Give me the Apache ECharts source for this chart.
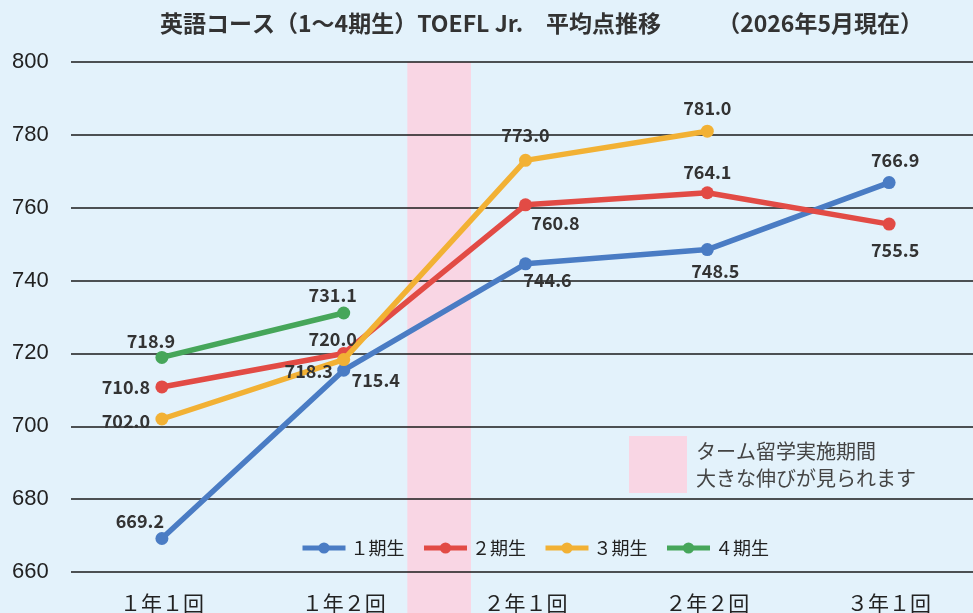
<!DOCTYPE html>
<html><head><meta charset="utf-8">
<script src="https://cdn.jsdelivr.net/npm/echarts@6/dist/echarts.min.js"></script>
<style>html,body{margin:0;padding:0;background:#e3f2fb;}#c{width:973px;height:613px;}</style>
</head><body><div id="c"></div>
<script>
const categories = ['１年１回', '１年２回', '２年１回', '２年２回', '３年１回'];
const seriesNames = ['１期生', '２期生', '３期生', '４期生'];
const s1 = [669.2, 715.4, 744.6, 748.5, 766.9];
const s2 = [710.8, 720.0, 760.8, 764.1, 755.5];
const s3 = [702.0, 718.3, 773.0, 781.0, null];
const s4 = [718.9, 731.1, null, null, null];
const yMin = 660, yMax = 800, yStep = 20;
const bandRange = [1.35, 1.70];
const bandName = 'ターム留学実施期間\n大きな伸びが見られます';
const titleMain = '英語コース（1～4期生）TOEFL Jr.　平均点推移';
const titleDate = '（2026年5月現在）';

// label layout (offsets from point centre), per series
const labelOffsets = [
  [[-22,-17],[32,10],[22,16],[8,22],[6,-22]],
  [[-36,0],[-11,-14],[30,18],[0,-21],[6,26]],
  [[-36,2],[-35,12],[0,-25],[0,-23],[0,0]],
  [[-11,-16],[-11,-18],[0,0],[0,0],[0,0]]
];
const colors = ['#4a7cc4', '#e24b45', '#f2b134', '#46a65a'];
const pink = '#f9d6e4';
const allData = [s1, s2, s3, s4];

const chart = echarts.init(document.getElementById('c'));
const lineSeries = allData.map((arr, si) => ({
  name: seriesNames[si],
  type: 'line',
  xAxisIndex: 0, yAxisIndex: 0,
  data: arr.map((v, i) => v == null ? null : {
    value: v,
    label: { offset: labelOffsets[si][i] }
  }),
  symbol: 'circle', symbolSize: 13,
  lineStyle: { width: 5.5, color: colors[si] },
  itemStyle: { color: colors[si] },
  z: 3 + si,
  label: {
    show: true, position: 'inside',
    formatter: p => p.value.toFixed(1),
    fontFamily: 'Noto Sans CJK JP', fontWeight: 'bold', fontSize: 18, color: '#333'
  }
}));

chart.setOption({
  backgroundColor: '#e3f2fb',
  animation: false,
  textStyle: { fontFamily: 'Noto Sans CJK JP' },
  title: [
    { text: titleMain, left: 160, top: 12, padding: 0,
      textStyle: { fontFamily: 'Noto Sans CJK JP', fontWeight: 'bold', fontSize: 23, color: '#333' } },
    { text: titleDate, right: 50, top: 12, padding: 0,
      textStyle: { fontFamily: 'Noto Sans CJK JP', fontWeight: 'bold', fontSize: 23, color: '#333' } }
  ],
  legend: [
    { data: seriesNames, left: 300, top: 539, itemWidth: 43, itemHeight: 14, itemGap: 17,
      padding: 0, lineStyle: { width: 5 },
      textStyle: { fontFamily: 'Noto Sans CJK JP', fontSize: 18, color: '#222' } },
    { data: [{ name: bandName, icon: 'rect', itemStyle: { color: pink } }],
      left: 629, top: 436, itemWidth: 58, itemHeight: 57, padding: 0, selectedMode: false,
      textStyle: { fontFamily: 'Noto Sans CJK JP', fontSize: 20, lineHeight: 27, color: '#444', padding: [0,0,0,4] } }
  ],
  grid: [
    { left: 71, width: 909, top: 62, bottom: 41, outerBoundsMode: 'none', containLabel: false },
    { left: 71, width: 909, top: 62, bottom: 0, outerBoundsMode: 'none', containLabel: false }
  ],
  xAxis: [
    { type: 'category', data: categories, gridIndex: 0,
      axisLine: { show: false }, axisTick: { show: false },
      axisLabel: { margin: 21, fontFamily: 'Noto Sans CJK JP', fontSize: 21, color: '#222' } },
    { type: 'value', gridIndex: 1, min: -0.5, max: categories.length - 0.5, show: false }
  ],
  yAxis: [
    { type: 'value', gridIndex: 0, min: yMin, max: yMax, interval: yStep,
      axisLine: { show: false }, axisTick: { show: false },
      splitLine: { lineStyle: { color: '#1a1a1a', width: 1.5 } },
      axisLabel: { align: 'left', margin: 59, fontFamily: 'Liberation Sans', fontSize: 22, color: '#222' } },
    { type: 'value', gridIndex: 1, min: 0, max: 1, show: false }
  ],
  series: [
    { name: bandName, type: 'custom', xAxisIndex: 1, yAxisIndex: 1, silent: true, z: -1,
      itemStyle: { color: pink },
      data: [[bandRange[0], bandRange[1]]],
      encode: { x: [0, 1] },
      renderItem: (params, api) => {
        const p0 = api.coord([api.value(0), 1]);
        const p1 = api.coord([api.value(1), 0]);
        return { type: 'rect', shape: { x: p0[0], y: p0[1], width: p1[0] - p0[0], height: p1[1] - p0[1] },
          style: { fill: pink } };
      }
    }
  ].concat(lineSeries)
});
</script></body></html>
